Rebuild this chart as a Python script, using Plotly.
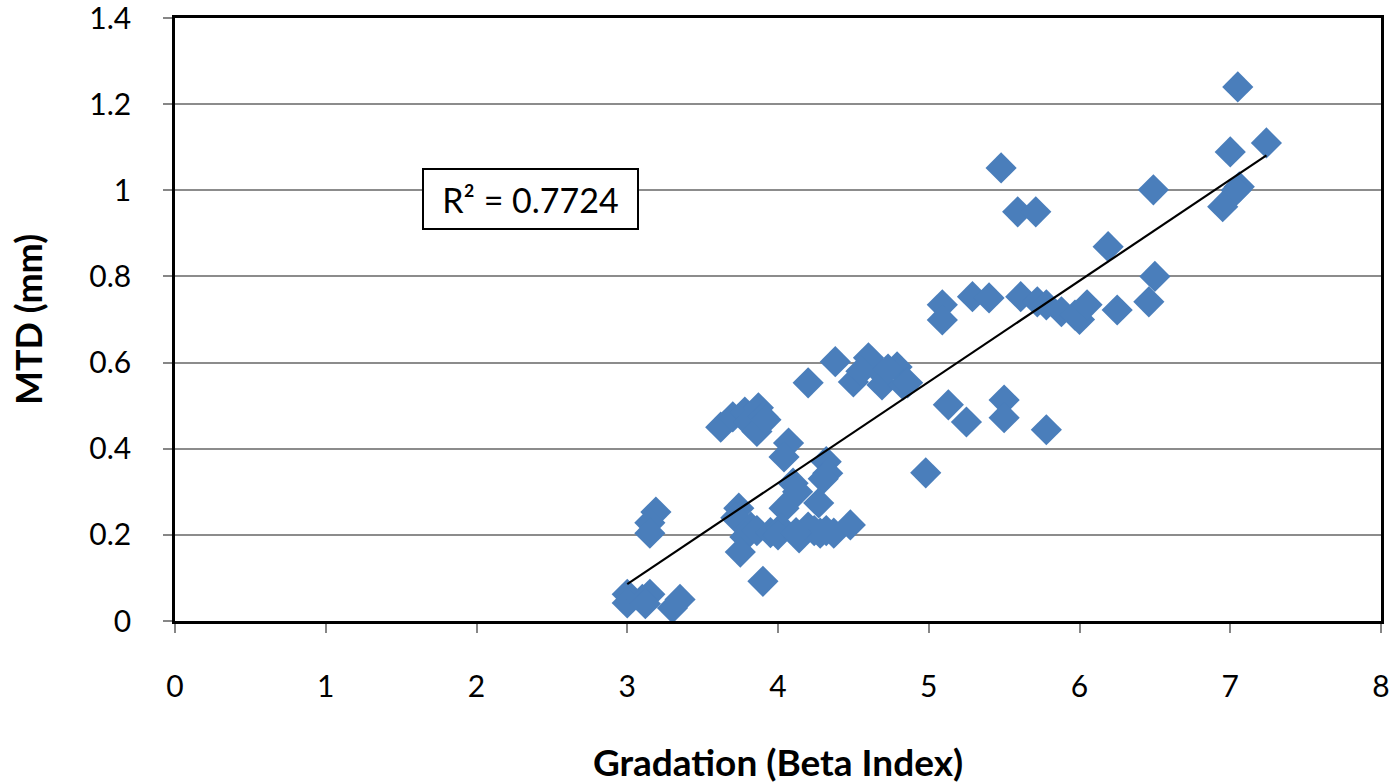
import numpy as np
import plotly.graph_objects as go

# Gradation (Beta index) and MTD (mm)
beta = [3.00, 3.00, 3.10, 3.15, 3.12, 3.30, 3.35,
        3.19, 3.15, 3.15,
        3.62, 3.70, 3.78, 3.80, 3.87, 3.90, 3.86, 3.92,
        4.07, 4.04, 4.32, 4.33, 4.10, 4.13, 4.30, 4.27, 4.04,
        3.74, 3.72, 3.82, 3.78, 3.75, 3.90, 3.86, 3.95, 4.02, 4.00, 4.14, 4.20,
        4.28, 4.37, 4.48, 4.24, 4.32, 4.12,
        4.20, 4.38, 4.60, 4.50, 4.55, 4.68, 4.79, 4.69, 4.83, 4.73,
        4.98, 4.86, 5.09, 5.09, 5.29, 5.40, 5.61, 5.72, 5.78, 5.88, 5.97, 6.00,
        6.05, 6.25, 5.13, 5.25, 5.50, 5.50, 5.78,
        5.48, 5.59, 5.71, 6.19, 6.49, 6.50, 6.46,
        7.05, 7.24, 7.00, 7.06, 7.04, 6.95]
mtd = [0.062, 0.042, 0.050, 0.062, 0.040, 0.030, 0.050,
       0.253, 0.228, 0.204,
       0.450, 0.474, 0.485, 0.462, 0.495, 0.474, 0.440, 0.467,
       0.413, 0.381, 0.370, 0.343, 0.320, 0.300, 0.330, 0.274, 0.262,
       0.262, 0.240, 0.218, 0.195, 0.160, 0.092, 0.210, 0.205, 0.216, 0.200, 0.193, 0.218,
       0.204, 0.204, 0.223, 0.210, 0.210, 0.205,
       0.553, 0.602, 0.611, 0.555, 0.580, 0.578, 0.590, 0.548, 0.548, 0.585,
       0.344, 0.553, 0.734, 0.699, 0.753, 0.750, 0.753, 0.741, 0.734, 0.718, 0.710, 0.700,
       0.734, 0.722, 0.502, 0.462, 0.513, 0.472, 0.444,
       1.052, 0.950, 0.950, 0.869, 1.001, 0.800, 0.741,
       1.240, 1.110, 1.089, 1.008, 1.000, 0.962]

x_ticks = [0, 1, 2, 3, 4, 5, 6, 7, 8]
y_ticks = [0, 0.2, 0.4, 0.6, 0.8, 1.0, 1.2, 1.4]
y_tick_text = ["0", "0.2", "0.4", "0.6", "0.8", "1", "1.2", "1.4"]
r2_text = "R² = 0.7724"

xa = np.array(beta)
ya = np.array(mtd)
slope, intercept = np.polyfit(xa, ya, 1)
x_fit = np.array([xa.min(), xa.max()])
y_fit = slope * x_fit + intercept

font_family = "Lato, 'Open Sans', sans-serif"

fig = go.Figure()
fig.add_trace(go.Scatter(
    x=beta, y=mtd, mode="markers",
    marker=dict(symbol="diamond", size=24, color="#4A7EBB",
                line=dict(width=0)),
    showlegend=False, hoverinfo="x+y"))
fig.add_trace(go.Scatter(
    x=x_fit, y=y_fit, mode="lines",
    line=dict(color="black", width=2.2),
    showlegend=False, hoverinfo="skip"))

fig.add_annotation(
    x=2.357, y=0.98, xref="x", yref="y", text=r2_text, showarrow=False,
    font=dict(family=font_family, size=34, color="black"),
    bgcolor="white", bordercolor="black", borderwidth=2,
    borderpad=6, width=201, height=46)

fig.update_layout(
    width=1389, height=784,
    margin=dict(l=175, r=8, t=18, b=163),
    paper_bgcolor="white", plot_bgcolor="white",
    font=dict(family=font_family, size=30, color="black"),
    xaxis=dict(
        range=[0, 8], tickvals=x_ticks, ticktext=[str(v) for v in x_ticks],
        showgrid=False, zeroline=False, automargin=False,
        ticklabeloverflow="allow",
        showline=True, linecolor="black", linewidth=2.5, mirror=True,
        ticks="outside", ticklen=9, tickcolor="#868686", tickwidth=2,
        ticklabelstandoff=28,
        tickfont=dict(family=font_family, size=30),
        title=dict(text="<b>Gradation (Beta Index)</b>",
                   font=dict(family=font_family, size=37), standoff=50),
    ),
    yaxis=dict(
        range=[0, 1.4], tickvals=y_ticks, ticktext=y_tick_text,
        showgrid=True, gridcolor="#8C8C8C", gridwidth=2, zeroline=False,
        automargin=False, ticklabeloverflow="allow",
        showline=True, linecolor="black", linewidth=2.5, mirror=True,
        ticks="outside", ticklen=9, tickcolor="#868686", tickwidth=2,
        ticklabelstandoff=26,
        tickfont=dict(family=font_family, size=30),
        title=dict(text="<b>MTD (mm)</b>",
                   font=dict(family=font_family, size=36), standoff=36),
    ),
)

fig.write_html("out.html")
